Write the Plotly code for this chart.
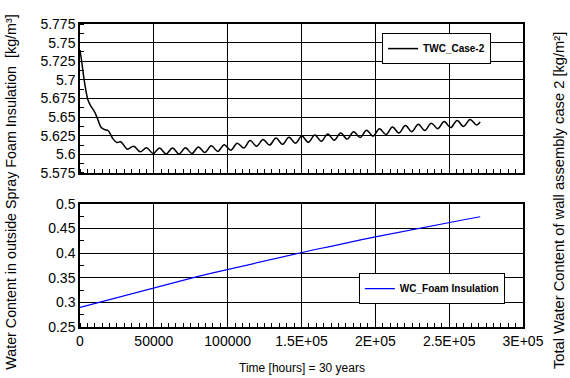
import plotly.graph_objects as go

# Total water content of the wall assembly (case 2), kg/m^2
twc_hours = [0, 900, 3200, 5400, 7600, 9900, 12200, 14400, 17000, 19000, 22300, 25000,
             27620, 32000, 36380, 40760, 45140, 49520, 53900, 58280, 62660, 67040,
             71420, 75800, 80180, 84560, 88940, 93320, 97700, 102080, 106460, 110840,
             115220, 119600, 123980, 128360, 132740, 137120, 141500, 145880, 150260,
             154640, 159020, 163400, 167780, 172160, 176540, 180920, 185300, 189680,
             194060, 198440, 202820, 207200, 211580, 215960, 220340, 224720, 229100,
             233480, 237860, 242240, 246620, 251000, 255380, 259760, 264140, 268520,
             271000]
twc_values = [5.740, 5.728, 5.695, 5.673, 5.664, 5.657, 5.646, 5.636, 5.633, 5.632,
              5.621, 5.616, 5.617, 5.607, 5.611, 5.6035, 5.609, 5.601, 5.6085, 5.6005,
              5.6085, 5.6005, 5.609, 5.601, 5.610, 5.6025, 5.6115, 5.604, 5.613, 5.6055,
              5.615, 5.6085, 5.6185, 5.611, 5.620, 5.6125, 5.622, 5.6135, 5.623, 5.615,
              5.6245, 5.6162, 5.6259, 5.6176, 5.6273, 5.619, 5.6288, 5.6205, 5.6305,
              5.6225, 5.6325, 5.6244, 5.6345, 5.6265, 5.6367, 5.6287, 5.6386, 5.6305,
              5.6403, 5.6322, 5.6419, 5.6345, 5.644, 5.636, 5.6455, 5.6375, 5.6468,
              5.6395, 5.6435]

# Water content in the outside spray foam insulation, kg/m^3
wc_hours = [0, 10000, 20000, 30000, 40000, 50000, 60000, 70000, 80000, 90000, 100000,
            110000, 120000, 130000, 140000, 150000, 160000, 170000, 180000, 190000,
            200000, 210000, 220000, 230000, 240000, 250000, 260000, 271000]
wc_values = [0.290, 0.298, 0.306, 0.314, 0.322, 0.330, 0.338, 0.345, 0.353, 0.360,
             0.367, 0.374, 0.381, 0.388, 0.395, 0.401, 0.408, 0.414, 0.421, 0.427,
             0.433, 0.439, 0.445, 0.451, 0.457, 0.463, 0.468, 0.474]

x_tickvals = [0, 50000, 100000, 150000, 200000, 250000, 300000]
x_ticktext = ["0", "50000", "100000", "1.5E+05", "2E+05", "2.5E+05", "3E+05"]
top_tickvals = [5.575, 5.6, 5.625, 5.65, 5.675, 5.7, 5.725, 5.75, 5.775]
top_ticktext = ["5.575", "5.6", "5.625", "5.65", "5.675", "5.7", "5.725", "5.75", "5.775"]
bot_tickvals = [0.25, 0.3, 0.35, 0.4, 0.45, 0.5]
bot_ticktext = ["0.25", "0.3", "0.35", "0.4", "0.45", "0.5"]

FONT = "Liberation Sans, Arial, sans-serif"

fig = go.Figure()
fig.add_trace(go.Scatter(
    x=twc_hours, y=twc_values, mode="lines", name="<b>TWC_Case-2</b>",
    line=dict(color="black", width=1.5, shape="spline", smoothing=1.0),
    xaxis="x", yaxis="y", legend="legend"))
fig.add_trace(go.Scatter(
    x=wc_hours, y=wc_values, mode="lines", name="<b>WC_Foam Insulation</b>",
    line=dict(color="#0000FF", width=1.2),
    xaxis="x2", yaxis="y2", legend="legend2"))

axis_common = dict(showline=True, linecolor="black", linewidth=1.5, mirror=True,
                   showgrid=True, gridcolor="black", gridwidth=1, zeroline=False,
                   ticks="", tickfont=dict(family=FONT, size=14, color="black"))

fig.update_layout(
    width=570, height=378,
    margin=dict(l=80, r=47, t=24, b=51),
    paper_bgcolor="white", plot_bgcolor="white",
    font=dict(family=FONT, color="black"),
    xaxis=dict(axis_common, domain=[0, 1], anchor="y", range=[0, 300000],
               tickvals=x_tickvals, showticklabels=False,
               minor=dict(dtick=5000, ticks="inside", ticklen=4, tickcolor="black",
                          showgrid=False)),
    yaxis=dict(axis_common, domain=[0.5083, 1], anchor="x", range=[5.575, 5.775],
               tickvals=top_tickvals, ticktext=top_ticktext,
               minor=dict(dtick=0.0125, tick0=5.575, ticks="inside", ticklen=4,
                          tickcolor="black", showgrid=False)),
    xaxis2=dict(axis_common, domain=[0, 1], anchor="y2", range=[0, 300000],
                tickvals=x_tickvals, ticktext=x_ticktext,
                minor=dict(dtick=5000, ticks="inside", ticklen=4, tickcolor="black",
                           showgrid=False)),
    yaxis2=dict(axis_common, domain=[0, 0.406], anchor="x2", range=[0.25, 0.5],
                tickvals=bot_tickvals, ticktext=bot_ticktext,
                minor=dict(dtick=0.025, tick0=0.25, ticks="inside", ticklen=4,
                           tickcolor="black", showgrid=False)),
    legend=dict(x=0.928, y=0.970, xanchor="right", yanchor="top",
                bgcolor="white", bordercolor="black", borderwidth=1,
                font=dict(family=FONT, size=10, color="black"),
                itemwidth=30, tracegroupgap=0),
    legend2=dict(x=0.959, y=0.178, xanchor="right", yanchor="top",
                 bgcolor="white", bordercolor="black", borderwidth=1,
                 font=dict(family=FONT, size=10, color="black"),
                 itemwidth=30, tracegroupgap=0),
    showlegend=True,
    annotations=[
        dict(text="Time [hours] = 30 years", xref="paper", yref="paper",
             x=0.5, y=-0.135, xanchor="center", yanchor="middle", showarrow=False,
             font=dict(family=FONT, size=12, color="black")),
        dict(text="Water Content in outside Spray Foam Insulation  [kg/m³]",
             xref="paper", yref="paper", x=-0.156, y=0.446, xanchor="center",
             yanchor="middle", textangle=-90, showarrow=False,
             font=dict(family=FONT, size=14.3, color="black")),
        dict(text="Total Water Content of wall assembly case 2 [kg/m²]",
             xref="paper", yref="paper", x=1.083, y=0.418, xanchor="center",
             yanchor="middle", textangle=-90, showarrow=False,
             font=dict(family=FONT, size=14.7, color="black")),
    ],
)

fig.write_html("out.html")
